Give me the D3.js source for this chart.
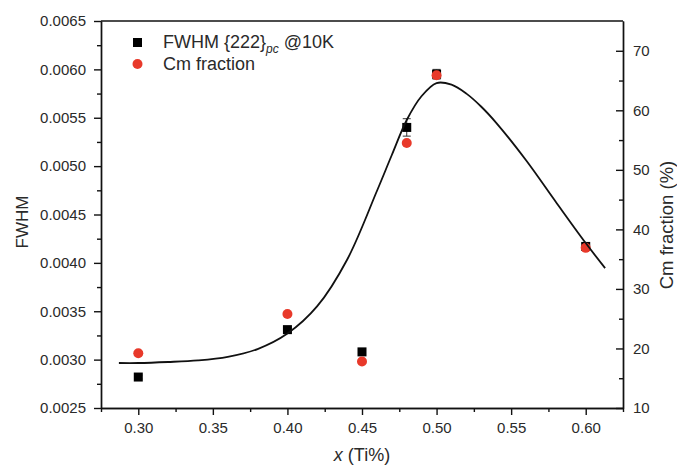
<!DOCTYPE html>
<html>
<head>
<meta charset="utf-8">
<script src="https://cdn.jsdelivr.net/npm/d3@7"></script>
<style>
  body { margin: 0; background: #fff; }
  svg text { font-family: "Liberation Sans", Arial, sans-serif; fill: #2a2a2a; }
  .axis path, .axis line { stroke: #111; stroke-width: 1.4; }
</style>
</head>
<body>
<div id="chart"></div>
<script>
// measured points (x = Ti fraction)
const xVals = [0.30, 0.40, 0.45, 0.48, 0.50, 0.60];
const fwhm = [0.00282, 0.00331, 0.00308, 0.00540, 0.00595, 0.00417];
const fwhmErr = [0.00002, 0.00002, 0.00002, 0.00009, 0.00005, 0.00003];
const cmFrac = [19.2, 25.8, 17.8, 54.5, 65.9, 36.9];

// guide curve (right axis units)
const fitX = [0.287, 0.30, 0.32, 0.34, 0.36, 0.38, 0.40, 0.42, 0.44, 0.46, 0.47, 0.48, 0.49, 0.50, 0.51, 0.52, 0.53, 0.54, 0.56, 0.58, 0.60, 0.613];
const fitY = [17.56, 17.56, 17.73, 18.0, 18.6, 19.9, 22.5, 27.1, 34.9, 46.45, 52.49, 58.37, 62.40, 64.58, 64.3, 62.8, 60.6, 57.9, 51.6, 44.6, 37.7, 33.5];

// tick labels
const xTicks = [0.30, 0.35, 0.40, 0.45, 0.50, 0.55, 0.60];
const yLeftTicks = [0.0025, 0.0030, 0.0035, 0.0040, 0.0045, 0.0050, 0.0055, 0.0060, 0.0065];
const yRightTicks = [10, 20, 30, 40, 50, 60, 70];

const width = 677, height = 467;
const plot = {left: 101, right: 623, top: 21, bottom: 408};

const svg = d3.select("#chart").append("svg")
    .attr("width", width)
    .attr("height", height);

let x = d3.scaleLinear().domain([0.275, 0.625]).range([plot.left, plot.right]);
let yL = d3.scaleLinear().domain([0.0025, 0.0065]).range([plot.bottom, plot.top]);
let yR = d3.scaleLinear().domain([10, 75]).range([plot.bottom, plot.top]);

// minor ticks halfway between majors
let xMinor = d3.range(0.275, 0.626, 0.05).map(d => +d.toFixed(3));
let yLMinor = d3.range(0.00275, 0.0065, 0.0005).map(d => +d.toFixed(5));
let yRMinor = d3.range(15, 75, 10);

// frame top line
svg.append("line")
    .attr("x1", plot.left).attr("x2", plot.right)
    .attr("y1", plot.top).attr("y2", plot.top)
    .attr("stroke", "#111").attr("stroke-width", 1.4);

// x axis
svg.append("g").attr("class", "axis")
    .attr("transform", "translate(0," + plot.bottom + ")")
    .call(d3.axisBottom(x).tickValues(xMinor).tickSize(4).tickSizeOuter(0).tickFormat(""));
let xAxis = svg.append("g").attr("class", "axis")
    .attr("transform", "translate(0," + plot.bottom + ")")
    .call(d3.axisBottom(x).tickValues(xTicks).tickSize(7).tickSizeOuter(0).tickPadding(7).tickFormat(d3.format(".2f")));
xAxis.selectAll("text").style("font-size", "15px");

// left axis
svg.append("g").attr("class", "axis")
    .attr("transform", "translate(" + plot.left + ",0)")
    .call(d3.axisLeft(yL).tickValues(yLMinor).tickSize(4).tickSizeOuter(0).tickFormat(""));
let leftAxis = svg.append("g").attr("class", "axis")
    .attr("transform", "translate(" + plot.left + ",0)")
    .call(d3.axisLeft(yL).tickValues(yLeftTicks).tickSize(7).tickSizeOuter(0).tickPadding(8).tickFormat(d3.format(".4f")));
leftAxis.selectAll("text").style("font-size", "15px");

// right axis, ticks point inward
svg.append("g").attr("class", "axis")
    .attr("transform", "translate(" + plot.right + ",0)")
    .call(d3.axisRight(yR).tickValues(yRMinor).tickSize(-4).tickSizeOuter(0).tickFormat(""));
let rightAxis = svg.append("g").attr("class", "axis")
    .attr("transform", "translate(" + plot.right + ",0)")
    .call(d3.axisRight(yR).tickValues(yRightTicks).tickSize(-7).tickSizeOuter(0).tickPadding(10));
rightAxis.selectAll("text").style("font-size", "15px");

// axis titles
svg.append("text")
    .attr("transform", "translate(28,222) rotate(-90)")
    .attr("text-anchor", "middle")
    .style("font-size", "17px")
    .text("FWHM");

svg.append("text")
    .attr("transform", "translate(673,225) rotate(-90)")
    .attr("text-anchor", "middle")
    .style("font-size", "18.5px")
    .text("Cm fraction (%)");

let xTitle = svg.append("text")
    .attr("x", (plot.left + plot.right) / 2)
    .attr("y", 461)
    .attr("text-anchor", "middle")
    .style("font-size", "18px");
xTitle.append("tspan").style("font-style", "italic").text("x");
xTitle.append("tspan").text(" (Ti%)");

let points = xVals.map((d, i) => ({x: d, f: fwhm[i], e: fwhmErr[i], c: cmFrac[i]}));

// error bars
let err = svg.append("g").attr("stroke", "#333").attr("stroke-width", 1);
err.selectAll(".ebar").data(points).enter().append("line")
    .attr("x1", d => x(d.x)).attr("x2", d => x(d.x))
    .attr("y1", d => yL(d.f - d.e)).attr("y2", d => yL(d.f + d.e));
err.selectAll(".ecapT").data(points).enter().append("line")
    .attr("x1", d => x(d.x) - 4).attr("x2", d => x(d.x) + 4)
    .attr("y1", d => yL(d.f + d.e)).attr("y2", d => yL(d.f + d.e));
err.selectAll(".ecapB").data(points).enter().append("line")
    .attr("x1", d => x(d.x) - 4).attr("x2", d => x(d.x) + 4)
    .attr("y1", d => yL(d.f - d.e)).attr("y2", d => yL(d.f - d.e));

// FWHM squares
let sq = 9;
svg.selectAll(".sq").data(points).enter().append("rect")
    .attr("x", d => x(d.x) - sq / 2)
    .attr("y", d => yL(d.f) - sq / 2)
    .attr("width", sq).attr("height", sq)
    .attr("fill", "#000");

// Cm fraction circles
svg.selectAll(".dot").data(points).enter().append("circle")
    .attr("cx", d => x(d.x))
    .attr("cy", d => yR(d.c))
    .attr("r", 5)
    .attr("fill", "#e8392a");

// guide curve
let fit = fitX.map((d, i) => [d, fitY[i]]);
svg.append("path")
    .datum(fit)
    .attr("fill", "none")
    .attr("stroke", "#111")
    .attr("stroke-width", 1.8)
    .attr("d", d3.line().x(d => x(d[0])).y(d => yR(d[1])).curve(d3.curveCatmullRom.alpha(0.5)));

// legend
svg.append("rect").attr("x", 133).attr("y", 38).attr("width", 9).attr("height", 9).attr("fill", "#000");
svg.append("circle").attr("cx", 137.5).attr("cy", 64).attr("r", 5).attr("fill", "#e8392a");

let leg1 = svg.append("text").attr("x", 163).attr("y", 48).style("font-size", "18px");
leg1.append("tspan").text("FWHM {222}");
leg1.append("tspan").attr("dy", 5).style("font-size", "12px").style("font-style", "italic").text("pc");
leg1.append("tspan").attr("dy", -5).text(" @10K");

svg.append("text").attr("x", 163).attr("y", 70).style("font-size", "18px").text("Cm fraction");
</script>
</body>
</html>
